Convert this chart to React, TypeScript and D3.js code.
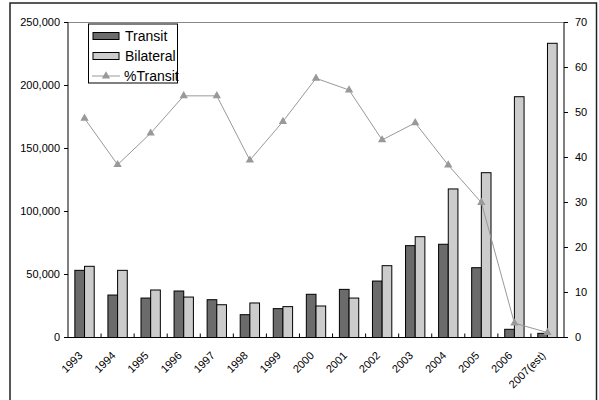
import React from "react";
import * as d3 from "d3";

const years = ["1993","1994","1995","1996","1997","1998","1999","2000","2001","2002","2003","2004","2005","2006","2007(est)"];
const transit = [53300,33700,31300,36900,30000,18100,22900,34300,38200,44800,72900,74000,55400,6500,3300];
const bilateral = [56500,53300,37700,32100,26000,27400,24500,25000,31300,57000,80000,117900,130800,191100,233500];
const pctTransit = [48.7,38.4,45.4,53.7,53.7,39.4,48.0,57.6,55.0,43.9,47.7,38.3,30.0,3.2,1.1];
const leftTicks = [0,50000,100000,150000,200000,250000];
const rightTicks = [0,10,20,30,40,50,60,70];

const W = 599, H = 400;
const plot = { left: 68, right: 564, top: 22.5, bottom: 337.5 };
const font = "'Liberation Sans', Arial, sans-serif";

export default function App() {
  const x0 = d3.scaleBand<string>().domain(years).range([plot.left, plot.right]).padding(0);
  const groupW = x0.bandwidth() * 0.585;
  const x1 = d3.scaleBand<string>().domain(["t","b"]).range([0, groupW]).padding(0);
  const yL = d3.scaleLinear().domain([0, 250000]).range([plot.bottom, plot.top]);
  const yR = d3.scaleLinear().domain([0, 70]).range([plot.bottom, plot.top]);
  const cx = (y: string) => (x0(y) as number) + x0.bandwidth() / 2;
  const line = d3.line<number>().x((_, i) => cx(years[i])).y(d => yR(d));
  const fmt = d3.format(",");
  const tri = d3.symbol().type(d3.symbolTriangle).size(30);

  return (
    <svg width={W} height={H} style={{ position: "absolute", left: 0, top: 0 }} fontFamily={font}>
      <rect x={0} y={0} width={W} height={H} fill="#fff" />
      <rect x={10} y={3} width={586.5} height={410} fill="none" stroke="#222" strokeWidth={1.5} />
      {/* plot frame */}
      <line x1={plot.left} x2={plot.right} y1={plot.top} y2={plot.top} stroke="#888" />
      {/* bars */}
      {years.map((yr, i) => {
        const gx = cx(yr) - groupW / 2;
        return (
          <g key={yr}>
            <rect x={gx + (x1("t") as number)} y={yL(transit[i])} width={x1.bandwidth()} height={plot.bottom - yL(transit[i])} fill="#6b6b6b" stroke="#000" strokeWidth={1} />
            <rect x={gx + (x1("b") as number)} y={yL(bilateral[i])} width={x1.bandwidth()} height={plot.bottom - yL(bilateral[i])} fill="#cccccc" stroke="#000" strokeWidth={1} />
          </g>
        );
      })}
      {/* axes */}
      <line x1={plot.left} x2={plot.left} y1={plot.top} y2={plot.bottom} stroke="#000" />
      <line x1={plot.right} x2={plot.right} y1={plot.top} y2={plot.bottom} stroke="#000" />
      <line x1={plot.left} x2={plot.right} y1={plot.bottom} y2={plot.bottom} stroke="#000" />
      {leftTicks.map(t => (
        <g key={t}>
          <line x1={plot.left - 4} x2={plot.left} y1={yL(t)} y2={yL(t)} stroke="#000" />
          <text x={plot.left - 8} y={yL(t)} dy="0.35em" textAnchor="end" fontSize={11}>{fmt(t)}</text>
        </g>
      ))}
      {rightTicks.map(t => (
        <g key={t}>
          <line x1={plot.right} x2={plot.right + 4} y1={yR(t)} y2={yR(t)} stroke="#000" />
          <text x={plot.right + 11} y={yR(t)} dy="0.35em" textAnchor="start" fontSize={11}>{t}</text>
        </g>
      ))}
      {years.slice(1).map(yr => (
        <line key={yr} x1={x0(yr)} x2={x0(yr)} y1={plot.bottom} y2={plot.bottom - 4} stroke="#000" />
      ))}
      {years.map(yr => (
        <text key={yr} transform={`translate(${cx(yr) - 4},${plot.bottom + 16}) rotate(-45)`} textAnchor="end" dy="0.35em" fontSize={11}>{yr}</text>
      ))}
      {/* %Transit line */}
      <path d={line(pctTransit) || ""} fill="none" stroke="#999" strokeWidth={1} />
      {pctTransit.map((p, i) => (
        <path key={i} d={tri() || ""} transform={`translate(${cx(years[i])},${yR(p)})`} fill="#999" />
      ))}
      {/* legend */}
      <rect x={88.5} y={24} width={89} height={59} fill="#fff" stroke="#000" />
      <rect x={93} y={32.5} width={26} height={7} fill="#6b6b6b" stroke="#000" />
      <text x={125} y={36} dy="0.35em" fontSize={14}>Transit</text>
      <rect x={93} y={52.5} width={26} height={7} fill="#cccccc" stroke="#000" />
      <text x={125} y={56} dy="0.35em" fontSize={14}>Bilateral</text>
      <line x1={92} x2={120} y1={76} y2={76} stroke="#999" />
      <path d={tri() || ""} transform="translate(106,76)" fill="#999" />
      <text x={124} y={76} dy="0.35em" fontSize={14}>%Transit</text>
    </svg>
  );
}
